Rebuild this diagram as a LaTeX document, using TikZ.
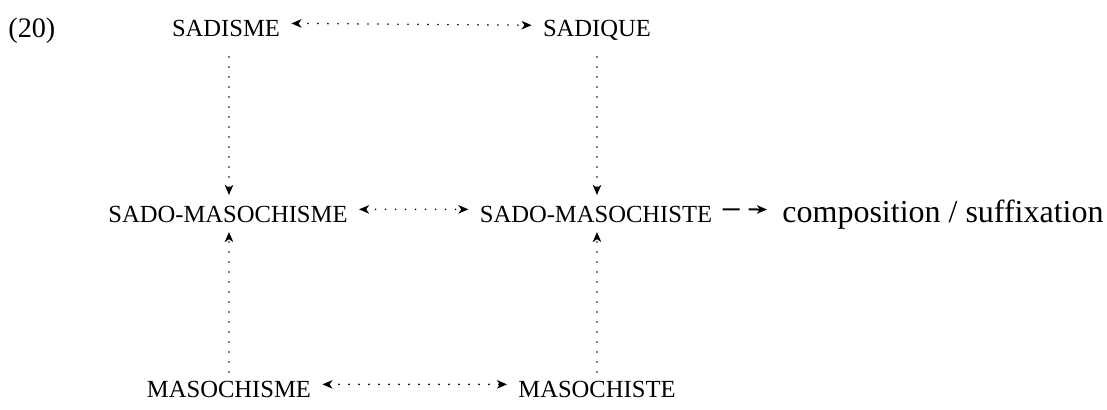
\documentclass[tikz,border=0pt]{standalone}
\usepackage{fontspec}
\setmainfont{Liberation Serif}
\usetikzlibrary{arrows.meta}
\begin{document}
\begin{tikzpicture}[x=0.5pt,y=-0.5pt,
  lex/.style={inner sep=0pt,anchor=base,font=\fontsize{12.3}{14}\selectfont},
  tip/.style={arrows={-Stealth[length=5pt,width=4.2pt,inset=1.4pt]}},
  dotline/.style={line width=0.9pt,line cap=round,dash pattern=on 0pt off 5pt,tip},
  dotboth/.style={line width=0.9pt,line cap=round,dash pattern=on 0pt off 5pt,
    arrows={Stealth[length=5pt,width=4.2pt,inset=1.4pt]-Stealth[length=5pt,width=4.2pt,inset=1.4pt]}},
  dashline/.style={line width=1pt,dash pattern=on 8.5pt off 4.5pt on 30pt,tip}]
\useasboundingbox (0,0) rectangle (1107,410);
\node[inner sep=0pt,anchor=base west,font=\fontsize{14.1}{16}\selectfont] (n20) at (8,38) {(20)};
\node[lex] (sadisme) at (226,37) {SADISME};
\node[lex] (sadique) at (597,37) {SADIQUE};
\node[lex] (sm) at (228,223) {SADO-MASOCHISME};
\node[lex] (sms) at (596,223) {SADO-MASOCHISTE};
\node[lex] (mas) at (229,398) {MASOCHISME};
\node[lex] (mast) at (597,398) {MASOCHISTE};
\node[inner sep=0pt,anchor=base west,font=\fontsize{16}{18}\selectfont] (comp) at (782,223) {composition / suffixation};
% coordinates for connector ends
\coordinate (t1) at (229,57); \coordinate (t1e) at (229,195);
\coordinate (t2) at (597,57); \coordinate (t2e) at (597,195);
\coordinate (b1) at (229,372); \coordinate (b1e) at (229,232);
\coordinate (b2) at (597,372); \coordinate (b2e) at (597,232);
\draw[dotboth] ([xshift=5.5pt,yshift=2.8pt]sadisme.east) -- ([xshift=-5.5pt,yshift=2.8pt]sadique.west);
\draw[dotboth] ([xshift=5.5pt,yshift=2.8pt]sm.east) -- ([xshift=-5.5pt,yshift=2.8pt]sms.west);
\draw[dotboth] ([xshift=5.5pt,yshift=2.8pt]mas.east) -- ([xshift=-5.5pt,yshift=2.8pt]mast.west);
\draw[dotline] (t1) -- (t1e);
\draw[dotline] (t2) -- (t2e);
\draw[dotline] (b1) -- (b1e);
\draw[dotline] (b2) -- (b2e);
\draw[dashline] ([xshift=5pt,yshift=2.8pt]sms.east) -- ([xshift=-7.5pt,yshift=2.8pt]comp.west);
\end{tikzpicture}
\end{document}
